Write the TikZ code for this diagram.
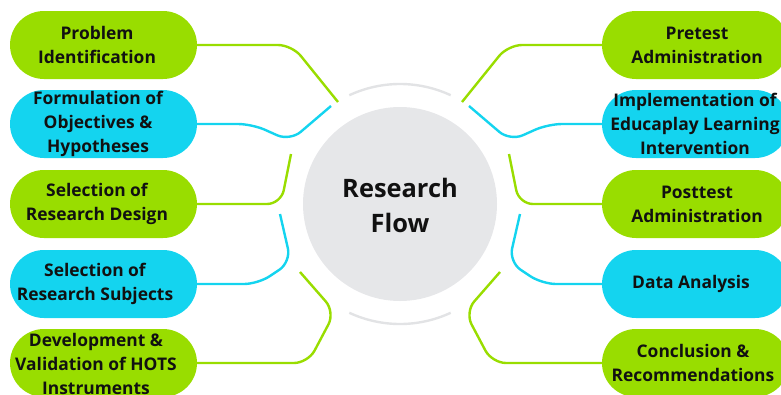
\documentclass[tikz,border=0pt]{standalone}
\usepackage{fontspec}
\setmainfont{Open Sans}
\usetikzlibrary{shapes.misc}

\definecolor{leafgreen}{HTML}{99DD00}
\definecolor{skycyan}{HTML}{14D4EF}
\definecolor{hubgray}{HTML}{E6E7E9}
\definecolor{ringgray}{HTML}{E2E3E5}
\definecolor{ink}{HTML}{111111}

\tikzset{
  pill/.style={rounded rectangle, minimum width=187pt, minimum height=68pt, inner sep=0pt},
  greenpill/.style={pill, fill=leafgreen},
  cyanpill/.style={pill, fill=skycyan},
  label/.style={font=\bfseries\fontsize{17.4}{23.8}\selectfont, text=ink, align=center, inner sep=0pt},
  link/.style={line width=2.4pt, rounded corners=14pt},
  greenlink/.style={link, draw=leafgreen},
  cyanlink/.style={link, draw=skycyan},
}

\begin{document}
\begin{tikzpicture}[x=1pt,y=-1pt]
  \useasboundingbox (0,0) rectangle (781,394);
  \clip (0,0) rectangle (781,394);

  % central hub and its two faint arcs
  \node[circle, fill=hubgray, minimum size=194pt, inner sep=0pt] (hub) at (400,204) {};
  \node[font=\bfseries\fontsize{25.4}{35}\selectfont, text=ink, align=center] (title) at (400,205) {Research\\Flow};
  \draw[ringgray, line width=2.4pt] (400,204) ++(-115:120) arc[start angle=-115, end angle=-65, radius=120];
  \draw[ringgray, line width=2.4pt] (400,204) ++(115:120) arc[start angle=115, end angle=65, radius=120];

  % left column
  \node[greenpill] (l1) at (103.5,45) {};
  \node[cyanpill]  (l2) at (103.5,124) {};
  \node[greenpill] (l3) at (103.5,204) {};
  \node[cyanpill]  (l4) at (103.5,284) {};
  \node[greenpill] (l5) at (103.5,363) {};
  \node[label] (tl1) at (97,45)  {Problem\\Identification};
  \node[label] (tl2) at (98,124) {Formulation of\\Objectives \&\\Hypotheses};
  \node[label] (tl3) at (97,204) {Selection of\\Research Design};
  \node[label] (tl4) at (95,284) {Selection of\\Research Subjects};
  \node[label] (tl5) at (96,364) {Development \&\\Validation of HOTS\\Instruments};

  % right column
  \node[greenpill] (r1) at (695.5,45) {};
  \node[cyanpill]  (r2) at (695.5,124) {};
  \node[greenpill] (r3) at (695.5,204) {};
  \node[cyanpill]  (r4) at (695.5,284) {};
  \node[greenpill] (r5) at (695.5,363) {};
  \node[label] (tr1) at (697,45)  {Pretest\\Administration};
  \node[label] (tr2) at (695,124) {Implementation of\\Educaplay Learning\\Intervention};
  \node[label] (tr3) at (697,204) {Posttest\\Administration};
  \node[label] (tr4) at (691,284) {Data Analysis};
  \node[label] (tr5) at (693,363) {Conclusion \&\\Recommendations};

  % free ends of the connectors, on a ring around the hub
  \coordinate (el1) at (338,102);
  \coordinate (el2) at (331,106);
  \coordinate (el3) at (291,154);
  \coordinate (el4) at (280,214);
  \coordinate (el5) at (300,272);
  \coordinate (er1) at (462,102);
  \coordinate (er2) at (469,106);
  \coordinate (er3) at (509,154);
  \coordinate (er4) at (520,214);
  \coordinate (er5) at (500,272);

  % left connectors
  \draw[greenlink] (l1.east) -- (292,45) -- (el1);
  \draw[cyanlink]  (l2.east) -- (252,124) -- (290,141) -- (el2);
  \draw[greenlink] (l3.east) -- (281,204) -- (el3);
  \draw[cyanlink]  (l4.east) -- (258,284) -- (291,262) -- (el4);
  \draw[greenlink] (l5.east) -- (308,363) -- (335,312) -- (el5);

  % right connectors
  \draw[greenlink] (r1.west) -- (508,45) -- (er1);
  \draw[cyanlink]  (r2.west) -- (548,124) -- (510,141) -- (er2);
  \draw[greenlink] (r3.west) -- (519,204) -- (er3);
  \draw[cyanlink]  (r4.west) -- (542,284) -- (509,262) -- (er4);
  \draw[greenlink] (r5.west) -- (492,363) -- (465,312) -- (er5);
\end{tikzpicture}
\end{document}
